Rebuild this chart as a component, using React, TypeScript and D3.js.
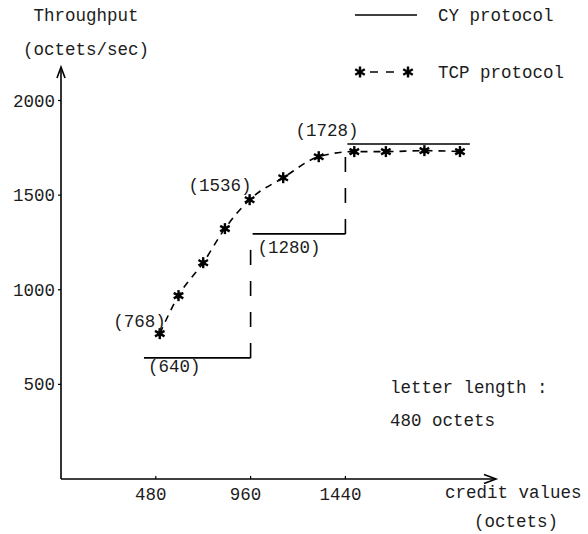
import React from "react";
import * as d3 from "d3";

const W = 588;
const H = 534;

// X axis tick values (credit values, octets)
const xTicks = [480, 960, 1440];
// Y axis tick values (throughput, octets/sec)
const yTicks = [500, 1000, 1500, 2000];

// CY protocol: step function
const cyBreaks = [420, 960, 1440, 2070]; // credit boundaries
const cyLevels = [640, 1295, 1770]; // throughput for each step

// TCP protocol measured points
const tcpCredits = [500, 595, 720, 830, 955, 1125, 1305, 1485, 1645, 1840, 2020];
const tcpThroughput = [768, 969, 1143, 1323, 1476, 1592, 1703, 1730, 1730, 1735, 1730];

// Annotation texts
const annTexts = ["(768)", "(640)", "(1536)", "(1280)", "(1728)"];

const FONT = "'Liberation Mono', 'DejaVu Sans Mono', monospace";

function Star({ cx, cy, r = 5.5 }: { cx: number; cy: number; r?: number }) {
  const lines = [0, 60, 120].map((a) => {
    const rad = (a * Math.PI) / 180 + Math.PI / 2;
    return (
      <line
        key={a}
        x1={cx - r * Math.cos(rad)}
        y1={cy - r * Math.sin(rad)}
        x2={cx + r * Math.cos(rad)}
        y2={cy + r * Math.sin(rad)}
        stroke="#000"
        strokeWidth={2.4}
      />
    );
  });
  return (
    <g>
      {lines}
      <circle cx={cx} cy={cy} r={2.6} fill="#000" />
    </g>
  );
}

export default function App() {
  const x = d3.scaleLinear().domain([0, 2200]).range([61, 61 + 2200 * 0.1975]);
  const y = d3.scaleLinear().domain([0, 2000]).range([479, 100.5]);

  const x0 = x(0);
  const y0 = y(0);

  const tcpPts: [number, number][] = tcpCredits.map((c, i) => [x(c), y(tcpThroughput[i])]);
  const tcpLine = d3.line().curve(d3.curveMonotoneX)(tcpPts) || "";

  const textStyle = { fontFamily: FONT, fontSize: 17.5, fill: "#1c1c1c" } as const;

  return (
    <svg
      width={W}
      height={H}
      style={{ position: "absolute", left: 0, top: 0, background: "#fff" }}
    >
      <rect x={0} y={0} width={W} height={H} fill="#fff" />
      {/* Axes */}
      <line x1={x0} y1={y0} x2={x0} y2={70} stroke="#000" strokeWidth={1.6} />
      <path d={`M${x0 - 4},${78} L${x0},${67} L${x0 + 4},${78}`} fill="none" stroke="#000" strokeWidth={1.6} />
      <line x1={x0} y1={y0} x2={494} y2={y0} stroke="#000" strokeWidth={1.6} />
      <path d={`M${484},${y0 - 4.5} L${496},${y0} L${484},${y0 + 4.5}`} fill="none" stroke="#000" strokeWidth={1.6} />

      {/* Y ticks */}
      {yTicks.map((t) => (
        <g key={t}>
          <line x1={x0 - 3} x2={x0} y1={y(t)} y2={y(t)} stroke="#000" strokeWidth={1.2} />
          <text x={x0 - 6} y={y(t) + 6} textAnchor="end" {...textStyle}>
            {t}
          </text>
        </g>
      ))}
      {/* X ticks */}
      {xTicks.map((t) => (
        <g key={t}>
          <line x1={x(t)} x2={x(t)} y1={y0 - 3} y2={y0} stroke="#000" strokeWidth={1.2} />
          <text x={x(t) - 5} y={y0 + 21} textAnchor="middle" {...textStyle}>
            {t}
          </text>
        </g>
      ))}

      {/* Axis titles */}
      <text x={86} y={21} textAnchor="middle" {...textStyle}>Throughput</text>
      <text x={86} y={55} textAnchor="middle" {...textStyle}>(octets/sec)</text>
      <text x={445} y={498} {...textStyle}>credit values</text>
      <text x={474} y={527} {...textStyle}>(octets)</text>

      {/* CY protocol step */}
      {cyLevels.map((v, i) => (
        <line
          key={"h" + i}
          x1={x(cyBreaks[i]) + (i > 0 ? 2 : 0)}
          x2={x(cyBreaks[i + 1])}
          y1={y(v)}
          y2={y(v)}
          stroke="#000"
          strokeWidth={1.6}
        />
      ))}
      {cyLevels.slice(1).map((v, i) => (
        <line
          key={"v" + i}
          x1={x(cyBreaks[i + 1])}
          x2={x(cyBreaks[i + 1])}
          y1={y(cyLevels[i])}
          y2={y(v)}
          stroke="#000"
          strokeWidth={1.6}
          strokeDasharray="15 16"
        />
      ))}

      {/* TCP protocol */}
      <path d={tcpLine} fill="none" stroke="#000" strokeWidth={1.6} strokeDasharray="7 6" />
      {tcpPts.map(([px, py], i) => (
        <Star key={i} cx={px} cy={py} />
      ))}

      {/* Annotations */}
      <text x={tcpPts[0][0] + 6} y={tcpPts[0][1] - 7} textAnchor="end" {...textStyle}>{annTexts[0]}</text>
      <text x={x(cyBreaks[0]) + 4} y={y(cyLevels[0]) + 14} {...textStyle}>{annTexts[1]}</text>
      <text x={tcpPts[4][0] + 2} y={tcpPts[4][1] - 9} textAnchor="end" {...textStyle}>{annTexts[2]}</text>
      <text x={x(cyBreaks[1]) + 7} y={y(cyLevels[1]) + 19} {...textStyle}>{annTexts[3]}</text>
      <text x={x(cyBreaks[2]) + 13} y={y(cyLevels[2]) - 8} textAnchor="end" {...textStyle}>{annTexts[4]}</text>

      {/* Legend */}
      <line x1={355} x2={417} y1={15} y2={15} stroke="#000" strokeWidth={1.6} />
      <text x={438} y={21} {...textStyle}>CY protocol</text>
      <line x1={370} x2={398} y1={72} y2={72} stroke="#000" strokeWidth={1.6} strokeDasharray="8 8" />
      <Star cx={360} cy={72} />
      <Star cx={408} cy={72} />
      <text x={438} y={78} {...textStyle}>TCP protocol</text>

      {/* Note */}
      <text x={390} y={393} {...textStyle}>letter length :</text>
      <text x={390} y={426} {...textStyle}>480 octets</text>
    </svg>
  );
}
